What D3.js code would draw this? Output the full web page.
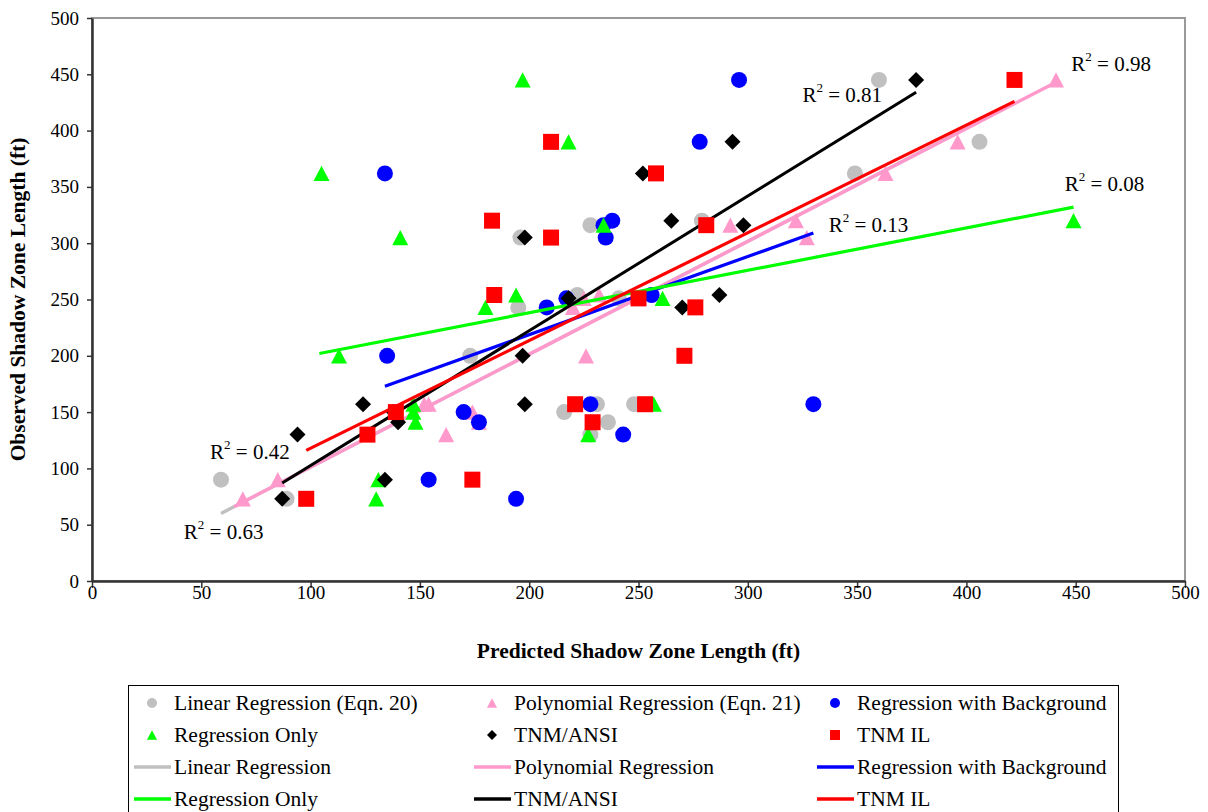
<!DOCTYPE html>
<html>
<head>
<meta charset="utf-8">
<script src="https://cdn.jsdelivr.net/npm/d3@7"></script>
<style>
  body { margin: 0; background: #fff; }
  svg text { font-family: "Liberation Serif", "Times New Roman", serif; fill: #000; }
</style>
</head>
<body>
<svg id="chart" width="1208" height="812"></svg>
<script>
// observed shadow zone length (ft), shared by every series
const observed = [445, 390, 362, 320, 316, 305, 254, 251, 243, 200, 157, 157, 150, 141, 130, 90, 73];

// predicted shadow zone length (ft), one array per method
const linearPred   = [360, 406, 349, 279, 228, 196, 222, 241, 195, 173, 231, 248, 216, 236, 228, 59, 89];
const polyPred     = [441, 396, 363, 322, 292, 327, 232, 225, 220, 226, 152, 154, 174, 177, 162, 85, 69];
const bgPred       = [296, 278, 134, 238, 234, 235, 256, 217, 208, 135, 228, 330, 170, 177, 243, 154, 194];
const regOnlyPred  = [197, 218, 105, 449, 234, 141, 194, 261, 180, 113, 257, 147, 147, 148, 227, 131, 130];
const tnmAnsiPred  = [377, 293, 252, 265, 298, 198, 287, 218, 270, 197, 198, 124, 138, 140, 94, 134, 87];
const tnmIlPred    = [422, 210, 258, 183, 281, 210, 184, 250, 276, 271, 221, 253, 139, 229, 126, 174, 98];

const seriesNames = ["Linear Regression (Eqn. 20)", "Polynomial Regression (Eqn. 21)", "Regression with Background",
                     "Regression Only", "TNM/ANSI", "TNM IL"];
const lineNames = ["Linear Regression", "Polynomial Regression", "Regression with Background",
                   "Regression Only", "TNM/ANSI", "TNM IL"];

// trendline end points (predicted, observed)
const trendX0 = [59, 65, 134, 104, 87, 98];
const trendY0 = [60, 66, 173, 202, 87, 116];
const trendX1 = [406, 441, 330, 449, 377, 422];
const trendY1 = [408, 443, 309, 332, 434, 426];

// R^2 labels, anchored in data units (left / baseline)
const r2Values = ["0.63", "0.98", "0.13", "0.08", "0.81", "0.42"];
const r2X = [42, 448, 337, 445, 325, 54];
const r2Y = [37, 453, 310, 346, 425, 108];

const ticks = d3.range(0, 501, 50);

const predicted = [linearPred, polyPred, bgPred, regOnlyPred, tnmAnsiPred, tnmIlPred];
const colors = ["#C0C0C0", "#FF99CC", "#0000FF", "#00FF00", "#000000", "#FF0000"];
const shapes = ["circle", "triangle", "circle", "triangle", "diamond", "square"];
const lineWidths = [3.4, 3.4, 3.2, 3.2, 3, 3.2];
const serif = '"Liberation Serif", "Times New Roman", serif';

const svg = d3.select("#chart");

const x = d3.scaleLinear().domain([0, 500]).range([92, 1185]);
const y = d3.scaleLinear().domain([0, 500]).range([581, 18]);

// marker paths, s = half size
function markerPath(shape, s) {
  if (shape === "circle") {
    return `M${-s},0A${s},${s} 0 1,0 ${s},0A${s},${s} 0 1,0 ${-s},0Z`;
  }
  if (shape === "triangle") {
    return `M0,${-s * 0.95}L${s},${s * 0.95}L${-s},${s * 0.95}Z`;
  }
  if (shape === "diamond") {
    return `M0,${-s}L${s},0L0,${s}L${-s},0Z`;
  }
  return `M${-s},${-s}H${s}V${s}H${-s}Z`;
}

// --- plot frame ---
svg.append("rect")
  .attr("x", x(0)).attr("y", y(500))
  .attr("width", x(500) - x(0)).attr("height", y(0) - y(500))
  .attr("fill", "#fff")
  .attr("stroke", "#999").attr("stroke-width", 2);

// --- axes ---
const yAxis = svg.append("g")
  .attr("transform", `translate(${x(0)},0)`)
  .call(d3.axisLeft(y).tickValues(ticks).tickSize(5).tickSizeOuter(0).tickPadding(8));
const xAxis = svg.append("g")
  .attr("transform", `translate(0,${y(0)})`)
  .call(d3.axisBottom(x).tickValues(ticks).tickSize(7).tickSizeOuter(0).tickPadding(-2));

[yAxis, xAxis].forEach(g => {
  g.attr("font-family", serif).attr("font-size", 19);
  g.select(".domain").attr("stroke", "#333").attr("stroke-width", 2.5);
  g.selectAll(".tick line").attr("stroke", "#333").attr("stroke-width", 1.5);
  g.selectAll(".tick text")
    .attr("font-family", serif)
    .style("font-family", serif)
    .style("font-size", "19px")
    .attr("fill", "#000");
});

svg.append("text")
  .attr("transform", `translate(25,${(y(0) + y(500)) / 2}) rotate(-90)`)
  .attr("text-anchor", "middle")
  .style("font-size", "21.5px").style("font-weight", "bold")
  .text("Observed Shadow Zone Length (ft)");

svg.append("text")
  .attr("x", (x(0) + x(500)) / 2).attr("y", 658)
  .attr("text-anchor", "middle")
  .style("font-size", "21.5px").style("font-weight", "bold")
  .text("Predicted Shadow Zone Length (ft)");

// --- series: markers then trendline ---
predicted.forEach((pred, i) => {
  const pts = pred.map((p, j) => ({ px: p, py: observed[j] }));
  svg.append("g").selectAll("path")
    .data(pts)
    .join("path")
    .attr("transform", d => `translate(${x(d.px)},${y(d.py)})`)
    .attr("d", markerPath(shapes[i], 8))
    .attr("fill", colors[i]);

  svg.append("line")
    .attr("x1", x(trendX0[i])).attr("y1", y(trendY0[i]))
    .attr("x2", x(trendX1[i])).attr("y2", y(trendY1[i]))
    .attr("stroke", colors[i]).attr("stroke-width", lineWidths[i]);
});

// --- R^2 labels ---
r2Values.forEach((v, i) => {
  const t = svg.append("text")
    .attr("x", x(r2X[i])).attr("y", y(r2Y[i]))
    .style("font-size", "21px");
  t.append("tspan").text("R");
  t.append("tspan").attr("dy", -10).style("font-size", "13px").text("2");
  t.append("tspan").attr("dy", 10).text(" = " + v);
});

// --- legend ---
const legend = svg.append("g");
legend.append("rect")
  .attr("x", 128.5).attr("y", 685.5)
  .attr("width", 990).attr("height", 140)
  .attr("fill", "#fff").attr("stroke", "#000").attr("stroke-width", 1);

const colX = [134, 474, 817];
const rowY = [703, 735, 767, 799];

seriesNames.forEach((name, i) => {
  const cx = colX[i % 3], cy = rowY[Math.floor(i / 3)];
  legend.append("path")
    .attr("transform", `translate(${cx + 18},${cy})`)
    .attr("d", markerPath(shapes[i], 5))
    .attr("fill", colors[i]);
  legend.append("text")
    .attr("x", cx + 40).attr("y", cy + 7)
    .style("font-size", "21.5px")
    .text(name);
});

lineNames.forEach((name, i) => {
  const lx = colX[i % 3], ly = rowY[2 + Math.floor(i / 3)];
  legend.append("line")
    .attr("x1", lx).attr("x2", lx + 37)
    .attr("y1", ly).attr("y2", ly)
    .attr("stroke", colors[i]).attr("stroke-width", 3.5);
  legend.append("text")
    .attr("x", lx + 40).attr("y", ly + 7)
    .style("font-size", "21.5px")
    .text(name);
});
</script>
</body>
</html>
